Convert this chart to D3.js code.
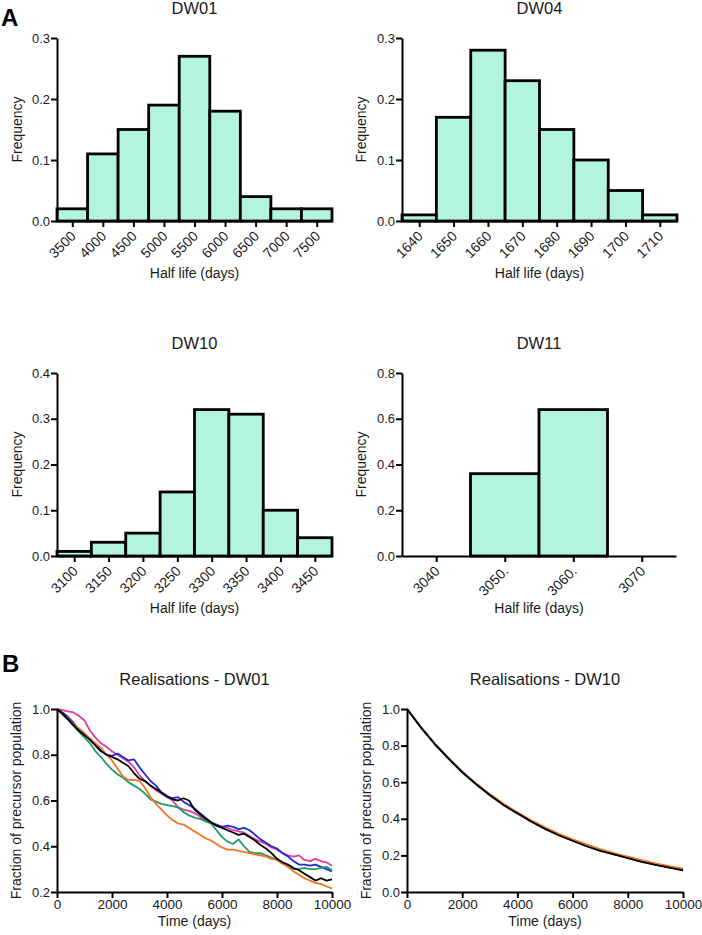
<!DOCTYPE html>
<html><head><meta charset="utf-8">
<script src="https://cdn.jsdelivr.net/npm/d3@7"></script>
<style>
html,body{margin:0;padding:0;background:#fff;}
svg{display:block;font-family:"Liberation Sans",Arial,Helvetica,sans-serif;}
</style></head><body>
<svg id="chart" width="702" height="935"></svg>
<script>
// ---------- DATA ----------
const dw01Bins = [3500,4000,4500,5000,5500,6000,6500,7000,7500];
const dw01Freq = [0.02,0.11,0.15,0.19,0.27,0.18,0.04,0.02,0.02];
const dw01Labels = ["3500","4000","4500","5000","5500","6000","6500","7000","7500"];
const dw01YTicks = [0,0.1,0.2,0.3];

const dw04Bins = [1640,1650,1660,1670,1680,1690,1700,1710];
const dw04Freq = [0.01,0.17,0.28,0.23,0.15,0.10,0.05,0.01];
const dw04Labels = ["1640","1650","1660","1670","1680","1690","1700","1710"];
const dw04YTicks = [0,0.1,0.2,0.3];

const dw10Bins = [3100,3150,3200,3250,3300,3350,3400,3450];
const dw10Freq = [0.01,0.03,0.05,0.14,0.32,0.31,0.10,0.04];
const dw10Labels = ["3100","3150","3200","3250","3300","3350","3400","3450"];
const dw10YTicks = [0,0.1,0.2,0.3,0.4];

const dw11Bins = [3040,3050,3060,3070];
const dw11Freq = [0,0.36,0.64,0];
const dw11Labels = ["3040","3050.","3060.","3070"];
const dw11YTicks = [0,0.2,0.4,0.6,0.8];

const timeTicks = [0,2000,4000,6000,8000,10000];
const realB1YTicks = [0.2,0.4,0.6,0.8,1.0];
const realB2YTicks = [0,0.2,0.4,0.6,0.8,1.0];

const times01 = [0,200,400,600,800,1000,1200,1400,1600,1800,2000,2200,2400,2600,2800,3000,3200,3400,3600,3800,4000,4200,4400,4600,4800,5000,5200,5400,5600,5800,6000,6200,6400,6600,6800,7000,7200,7400,7600,7800,8000,8200,8400,8600,8800,9000,9200,9400,9600,9800,10000];
const dw01Pink   = [1.0,0.995,0.99,0.985,0.97,0.95,0.905,0.875,0.85,0.835,0.815,0.80,0.785,0.77,0.745,0.71,0.685,0.665,0.645,0.63,0.615,0.60,0.57,0.56,0.555,0.545,0.53,0.51,0.50,0.49,0.485,0.48,0.47,0.465,0.46,0.445,0.43,0.42,0.41,0.395,0.385,0.37,0.36,0.355,0.36,0.34,0.335,0.345,0.335,0.33,0.315];
const dw01Blue   = [1.0,0.985,0.965,0.94,0.91,0.885,0.87,0.845,0.82,0.80,0.795,0.805,0.79,0.775,0.78,0.745,0.715,0.685,0.665,0.635,0.615,0.61,0.615,0.595,0.58,0.565,0.545,0.525,0.505,0.495,0.485,0.49,0.485,0.475,0.48,0.47,0.45,0.43,0.415,0.40,0.39,0.37,0.355,0.335,0.32,0.32,0.315,0.32,0.31,0.30,0.29];
const dw01Green  = [1.0,0.975,0.955,0.925,0.90,0.875,0.85,0.815,0.79,0.76,0.735,0.715,0.70,0.68,0.665,0.65,0.63,0.605,0.595,0.585,0.58,0.575,0.57,0.55,0.535,0.525,0.52,0.51,0.50,0.47,0.44,0.42,0.41,0.43,0.40,0.375,0.37,0.37,0.36,0.35,0.34,0.325,0.31,0.30,0.30,0.305,0.30,0.30,0.305,0.31,0.295];
const dw01Orange = [1.0,0.975,0.955,0.935,0.915,0.895,0.87,0.85,0.83,0.80,0.775,0.74,0.705,0.69,0.69,0.685,0.655,0.615,0.585,0.56,0.535,0.515,0.50,0.495,0.48,0.465,0.45,0.435,0.425,0.41,0.395,0.385,0.385,0.38,0.375,0.37,0.365,0.36,0.355,0.345,0.34,0.325,0.31,0.29,0.275,0.26,0.25,0.24,0.235,0.225,0.215];
const dw01Black  = [1.0,0.98,0.955,0.93,0.905,0.885,0.865,0.84,0.815,0.80,0.79,0.78,0.765,0.75,0.72,0.695,0.685,0.665,0.65,0.635,0.62,0.605,0.60,0.61,0.60,0.56,0.54,0.52,0.505,0.49,0.48,0.47,0.46,0.45,0.455,0.44,0.425,0.405,0.39,0.37,0.345,0.33,0.32,0.305,0.295,0.28,0.265,0.25,0.26,0.25,0.255];

const times10 = [0,500,1000,1500,2000,2500,3000,3500,4000,4500,5000,5500,6000,6500,7000,7500,8000,8500,9000,9500,10000];
const dw10Orange = [1.0,0.90,0.81,0.732,0.658,0.593,0.535,0.482,0.435,0.392,0.353,0.318,0.288,0.26,0.235,0.213,0.193,0.174,0.157,0.142,0.128];
const dw10Green  = [1.0,0.90,0.808,0.728,0.653,0.588,0.528,0.476,0.43,0.388,0.35,0.315,0.284,0.256,0.231,0.209,0.189,0.170,0.153,0.138,0.124];
const dw10Blue   = [1.0,0.901,0.811,0.731,0.656,0.59,0.53,0.476,0.429,0.385,0.346,0.311,0.28,0.252,0.228,0.206,0.186,0.167,0.15,0.135,0.12];
const dw10Pink   = [1.0,0.90,0.81,0.731,0.657,0.591,0.531,0.478,0.431,0.387,0.348,0.313,0.282,0.254,0.23,0.208,0.188,0.169,0.152,0.137,0.122];
const dw10Black  = [1.0,0.90,0.81,0.73,0.655,0.59,0.53,0.475,0.43,0.385,0.345,0.31,0.28,0.25,0.225,0.205,0.185,0.165,0.148,0.133,0.118];

// ---------- DRAW ----------
const svg = d3.select("#chart");
const FILL = "#b3f5dc";
const COLORS = {pink:"#e6399b", blue:"#1f2bd6", green:"#1f9a6c", orange:"#f47321", black:"#000000"};

function styleAxis(g, size){
  g.select(".domain").attr("stroke","#000").attr("stroke-width",2);
  g.selectAll(".tick line").attr("stroke","#000").attr("stroke-width",2);
  g.selectAll(".tick text").attr("fill","#1a1a1a").style("font-size",size||"13px")
    .style("font-family",'"Liberation Sans",Arial,sans-serif');
}

function addText(x,y,txt,size,opts={}){
  const t = svg.append("text").attr("x",x).attr("y",y).text(txt)
    .attr("font-size",size).attr("fill","#1a1a1a")
    .attr("text-anchor",opts.anchor||"middle");
  if(opts.bold) t.attr("font-weight","bold").attr("fill","#000");
  if(opts.rotate) t.attr("transform",`rotate(-90,${x},${y})`);
  return t;
}

function hist(p){
  const x = d3.scaleLinear().domain(p.xDomain).range([p.left,p.right]);
  const y = d3.scaleLinear().domain([0,p.yMax]).range([p.bottom,p.top]);
  const g = svg.append("g");
  const data = p.bins.map((b,i)=>({b, f:p.freq[i]})).filter(d=>d.f>0);
  g.selectAll("rect").data(data).join("rect")
    .attr("x",d=>x(d.b-p.width/2))
    .attr("width",d=>x(d.b+p.width/2)-x(d.b-p.width/2))
    .attr("y",d=>y(d.f)).attr("height",d=>y(0)-y(d.f))
    .attr("fill",FILL).attr("stroke","#000").attr("stroke-width",2.8);
  const ya = g.append("g").attr("transform",`translate(${p.left},0)`)
    .call(d3.axisLeft(y).tickValues(p.yTicks).tickFormat(d3.format(".1f"))
      .tickSize(6).tickSizeOuter(0).tickPadding(1));
  styleAxis(ya, "13px");
  const xa = g.append("g").attr("transform",`translate(0,${p.bottom})`)
    .call(d3.axisBottom(x).tickValues(p.bins).tickFormat((d,i)=>p.labels[i])
      .tickSize(6).tickSizeOuter(0));
  styleAxis(xa, "14px");
  xa.selectAll(".tick text").attr("y",0).attr("dy",null)
    .attr("transform","translate(4,16) rotate(-45)").attr("text-anchor","end");
  const cx = (p.left+p.right)/2;
  addText(cx, p.top-24, p.title, "16.5px");
  addText(cx, p.bottom+57, "Half life (days)", "14px");
  addText(p.ylabX, (p.top+p.bottom)/2, "Frequency", "14px", {rotate:true});
}

function lines(p){
  const x = d3.scaleLinear().domain([0,10000]).range([p.left,p.right]);
  const y = d3.scaleLinear().domain(p.yDomain).range([p.bottom,p.top]);
  const g = svg.append("g");
  const line = d3.line().x((d,i)=>x(p.times[i])).y(d=>y(d));
  p.series.forEach(s=>{
    g.append("path").datum(s.values).attr("d",line)
      .attr("fill","none").attr("stroke",s.color).attr("stroke-width",1.8)
      .attr("stroke-linejoin","round");
  });
  const ya = g.append("g").attr("transform",`translate(${p.left},0)`)
    .call(d3.axisLeft(y).tickValues(p.yTicks).tickFormat(d3.format(".1f"))
      .tickSize(6).tickSizeOuter(0).tickPadding(1));
  styleAxis(ya, "13px");
  const xa = g.append("g").attr("transform",`translate(0,${p.bottom})`)
    .call(d3.axisBottom(x).tickValues(timeTicks).tickFormat(d3.format("d"))
      .tickSize(6).tickSizeOuter(0).tickPadding(1));
  styleAxis(xa, "13.5px");
  const cx = (p.left+p.right)/2;
  addText(cx, p.top-24, p.title, "16.5px");
  addText(cx, p.bottom+34, "Time (days)", "14px");
  addText(p.ylabX, (p.top+p.bottom)/2, "Fraction of precursor population", "14px", {rotate:true});
}

hist({title:"DW01", bins:dw01Bins, freq:dw01Freq, labels:dw01Labels, yTicks:dw01YTicks,
  width:500, xDomain:[3250,7750], yMax:0.3, left:57, right:332, top:38, bottom:221, ylabX:22});
hist({title:"DW04", bins:dw04Bins, freq:dw04Freq, labels:dw04Labels, yTicks:dw04YTicks,
  width:10, xDomain:[1635,1715], yMax:0.3, left:402, right:677, top:38, bottom:221, ylabX:366});
hist({title:"DW10", bins:dw10Bins, freq:dw10Freq, labels:dw10Labels, yTicks:dw10YTicks,
  width:50, xDomain:[3075,3475], yMax:0.4, left:57, right:332, top:373, bottom:556, ylabX:22});
hist({title:"DW11", bins:dw11Bins, freq:dw11Freq, labels:dw11Labels, yTicks:dw11YTicks,
  width:10, xDomain:[3035,3075], yMax:0.8, left:402, right:676, top:373, bottom:556, ylabX:366});

lines({title:"Realisations - DW01", times:times01, yDomain:[0.2,1.0], yTicks:realB1YTicks,
  left:57, right:332, top:709, bottom:892, ylabX:21,
  series:[{values:dw01Pink,color:COLORS.pink},{values:dw01Blue,color:COLORS.blue},
          {values:dw01Green,color:COLORS.green},{values:dw01Orange,color:COLORS.orange},
          {values:dw01Black,color:COLORS.black}]});
lines({title:"Realisations - DW10", times:times10, yDomain:[0,1.0], yTicks:realB2YTicks,
  left:407, right:683, top:709, bottom:892, ylabX:371,
  series:[{values:dw10Pink,color:COLORS.pink},{values:dw10Blue,color:COLORS.blue},
          {values:dw10Green,color:COLORS.green},{values:dw10Orange,color:COLORS.orange},
          {values:dw10Black,color:COLORS.black}]});

addText(1, 26, "A", "24px", {anchor:"start", bold:true});
addText(2, 672, "B", "24px", {anchor:"start", bold:true});
</script>
</body></html>
